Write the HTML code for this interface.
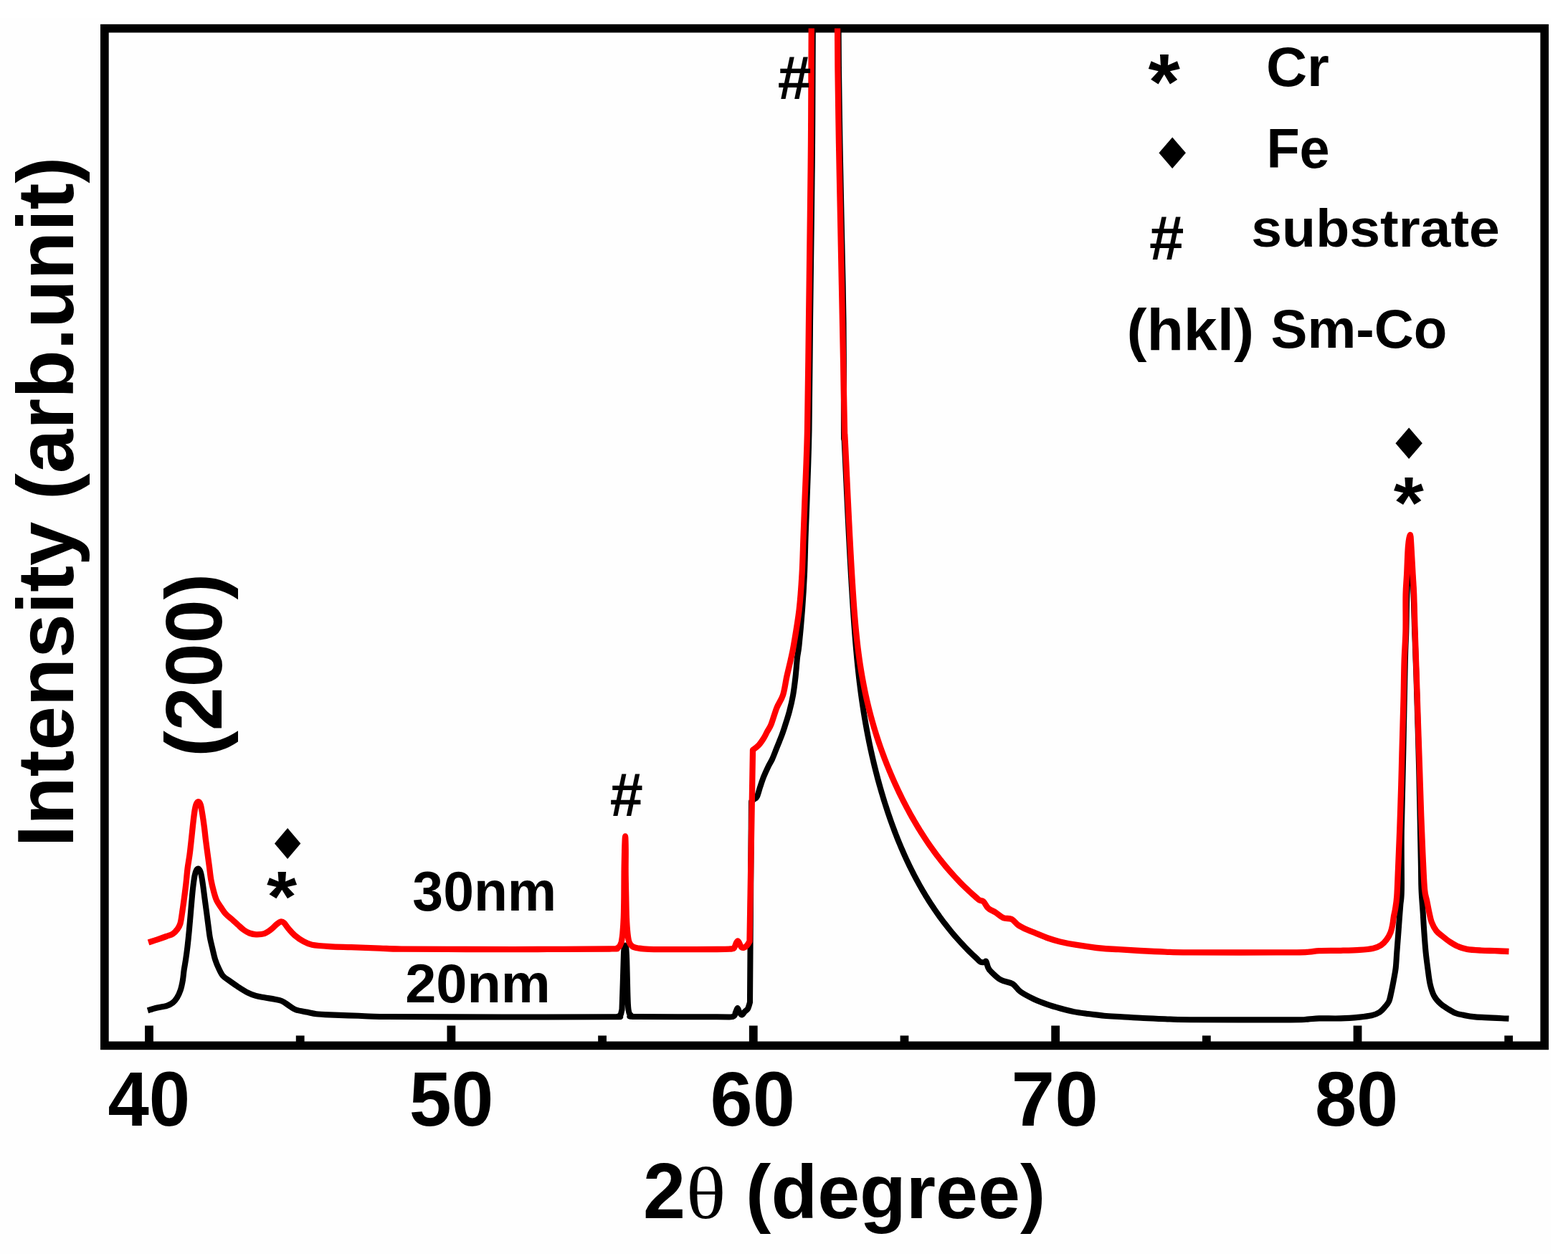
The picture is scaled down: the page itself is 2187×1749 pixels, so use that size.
<!DOCTYPE html>
<html><head><meta charset="utf-8"><title>XRD 2θ scan</title>
<style>
html,body{margin:0;padding:0;background:#fff;}
svg{display:block;}
text{fill:#000;font-kerning:normal;}
</style></head>
<body>
<svg width="2187" height="1749" viewBox="0 0 2187 1749">
<rect x="0" y="0" width="2187" height="1749" fill="#ffffff"/>
<rect x="0" y="25" width="2162.5" height="1724" fill="#fefefe"/>
<defs><clipPath id="plot"><rect x="151.7" y="39.5" width="1996.7" height="1413"/></clipPath></defs>
<rect x="145.85" y="39.65" width="2008.4" height="1418.7" fill="none" stroke="#000" stroke-width="11.7"/>
<g fill="#000"><rect x="202.1" y="1430.5" width="11.8" height="23"/><rect x="412.79" y="1444.4" width="11.8" height="9.1"/><rect x="623.48" y="1430.5" width="11.8" height="23"/><rect x="834.17" y="1444.4" width="11.8" height="9.1"/><rect x="1044.86" y="1430.5" width="11.8" height="23"/><rect x="1255.55" y="1444.4" width="11.8" height="9.1"/><rect x="1466.24" y="1430.5" width="11.8" height="23"/><rect x="1676.93" y="1444.4" width="11.8" height="9.1"/><rect x="1887.62" y="1430.5" width="11.8" height="23"/><rect x="2098.31" y="1444.4" width="11.8" height="9.1"/></g>
<g clip-path="url(#plot)" fill="none" stroke-linejoin="round" stroke-linecap="butt">
<path d="M206 1409.4C208.017 1408.8 213.667 1406.9 218.1 1405.8C222.533 1404.7 228.783 1404.017 232.6 1402.8C236.417 1401.583 238.6 1400.417 241 1398.5C243.4 1396.583 245.183 1394.317 247 1391.3C248.817 1388.283 250.583 1384.417 251.9 1380.4C253.217 1376.383 254.1 1371.817 254.9 1367.2C255.7 1362.583 256 1357.533 256.7 1352.7C257.4 1347.867 258.3 1343.617 259.1 1338.2C259.9 1332.783 260.717 1326.9 261.5 1320.2C262.283 1313.5 262.983 1306.7 263.8 1298C264.617 1289.3 265.55 1277.6 266.4 1268C267.25 1258.4 268.05 1248.15 268.9 1240.4C269.75 1232.65 270.65 1225.983 271.5 1221.5C272.35 1217.017 273.05 1215.083 274 1213.5C274.95 1211.917 276.133 1211.133 277.2 1212C278.267 1212.867 279.433 1215.033 280.4 1218.7C281.367 1222.367 282.15 1228.267 283 1234C283.85 1239.733 284.65 1246.717 285.5 1253.1C286.35 1259.483 287.25 1265.917 288.1 1272.3C288.95 1278.683 289.8 1285.433 290.6 1291.4C291.4 1297.367 291.917 1302.7 292.9 1308.1C293.883 1313.5 295.3 1318.783 296.5 1323.8C297.7 1328.817 298.7 1333.783 300.1 1338.2C301.5 1342.617 303.083 1346.467 304.9 1350.3C306.717 1354.133 308.383 1358.183 311 1361.2C313.617 1364.217 316.983 1365.8 320.6 1368.4C324.217 1371 328.683 1374.183 332.7 1376.8C336.717 1379.417 340.683 1382.083 344.7 1384.1C348.717 1386.117 352.783 1387.7 356.8 1388.9C360.817 1390.1 364.383 1390.5 368.8 1391.3C373.217 1392.1 379.267 1392.9 383.3 1393.7C387.333 1394.5 389.783 1394.683 393 1396.1C396.217 1397.517 399.383 1400.183 402.6 1402.2C405.817 1404.217 407.883 1406.6 412.3 1408.2C416.717 1409.8 424.283 1410.8 429.1 1411.8C433.917 1412.8 436.05 1413.6 441.2 1414.2C446.35 1414.8 450.2 1414.967 460 1415.4C469.8 1415.833 486.667 1416.367 500 1416.8C513.333 1417.233 506.667 1417.717 540 1418C573.333 1418.283 648.333 1418.45 700 1418.5C751.667 1418.55 823 1418.45 850 1418.3C877 1418.15 859.333 1418.233 862 1417.6C864.667 1416.967 865.333 1415.017 866 1414.5L867.5 1408C867.717 1401.667 868.383 1383 868.8 1370C869.217 1357 869.633 1338.25 870 1330C870.367 1321.75 870.5 1322.083 871 1320.5C871.5 1318.917 872.467 1317.25 873 1320.5C873.533 1323.75 873.817 1329.25 874.2 1340C874.583 1350.75 874.917 1373.667 875.3 1385C875.683 1396.333 875.717 1402.833 876.5 1408C877.283 1413.167 877.75 1414.333 880 1416C882.25 1417.667 870 1417.617 890 1418C910 1418.383 978 1418.3 1000 1418.3C1022 1418.3 1017.667 1419.05 1022 1418C1026.333 1416.95 1024.883 1414 1026 1412C1027.117 1410 1027.783 1406 1028.7 1406C1029.617 1406 1030.45 1410.417 1031.5 1412C1032.55 1413.583 1033.8 1415.667 1035 1415.5C1036.2 1415.333 1037.367 1412.417 1038.7 1411C1040.033 1409.583 1041.783 1409.167 1043 1407C1044.217 1404.833 1045.5 1399.5 1046 1398L1048 1118C1048.667 1117.417 1050.683 1115.667 1052 1114.5C1053.317 1113.333 1054.5 1113.917 1055.9 1111C1057.3 1108.083 1058.833 1101.65 1060.4 1097C1061.967 1092.35 1063.45 1087.733 1065.3 1083.1C1067.15 1078.467 1069.533 1073.267 1071.5 1069.2C1073.467 1065.133 1075.233 1062.767 1077.1 1058.7C1078.967 1054.633 1081.067 1048.85 1082.7 1044.8C1084.333 1040.75 1085.517 1037.883 1086.9 1034.4C1088.283 1030.917 1089.733 1027.383 1091 1023.9C1092.267 1020.417 1092.833 1018.783 1094.5 1013.5C1096.167 1008.217 1099.067 999.517 1101 992.2C1102.933 984.883 1104.667 977.717 1106.1 969.6C1107.533 961.483 1108.617 952.2 1109.6 943.5C1110.583 934.8 1111.183 924.65 1112 917.4C1112.817 910.15 1113.333 911.233 1114.5 900C1115.667 888.767 1117.75 866.667 1119 850C1120.25 833.333 1121.25 816.667 1122 800C1122.75 783.333 1122.933 766.667 1123.5 750C1124.067 733.333 1124.567 725 1125.4 700C1126.233 675 1127.733 641.667 1128.5 600C1129.267 558.333 1129.433 500 1130 450C1130.567 400 1131.4 341.667 1131.9 300C1132.4 258.333 1132.733 233.333 1133 200C1133.267 166.667 1133.367 128.333 1133.5 100C1133.633 71.667 1133.75 41.667 1133.8 30L1169.5 30C1169.583 41.667 1169.667 71.667 1170 100C1170.333 128.333 1170.917 166.667 1171.5 200C1172.083 233.333 1172.667 258.333 1173.5 300C1174.333 341.667 1175.917 400 1176.5 450C1177.083 500 1176.87 574.023 1177 600C1177.13 625.977 1177.187 603.903 1177.28 605.86C1177.373 607.817 1177.468 609.78 1177.56 611.74C1177.652 613.7 1177.738 615.657 1177.83 617.62C1177.922 619.583 1178.018 621.553 1178.11 623.52C1178.202 625.487 1178.288 627.452 1178.38 629.42C1178.472 631.388 1178.568 633.358 1178.66 635.33C1178.752 637.302 1178.838 639.275 1178.93 641.25C1179.022 643.225 1179.118 645.202 1179.21 647.18C1179.302 649.158 1179.388 651.14 1179.48 653.12C1179.572 655.1 1179.668 657.077 1179.76 659.06C1179.852 661.043 1179.938 663.033 1180.03 665.02C1180.122 667.007 1180.217 668.992 1180.31 670.98C1180.403 672.968 1180.497 674.96 1180.59 676.95C1180.683 678.94 1180.777 680.928 1180.87 682.92C1180.963 684.912 1181.057 686.905 1181.15 688.9C1181.243 690.895 1181.337 692.893 1181.43 694.89C1181.523 696.887 1181.615 698.882 1181.71 700.88C1181.805 702.878 1181.903 704.878 1182 706.88C1182.097 708.882 1182.193 710.887 1182.29 712.89C1182.387 714.893 1182.483 716.897 1182.58 718.9C1182.677 720.903 1182.772 722.905 1182.87 724.91C1182.968 726.915 1183.07 728.923 1183.17 730.93C1183.27 732.937 1183.368 734.942 1183.47 736.95C1183.572 738.958 1183.678 740.97 1183.78 742.98C1183.882 744.99 1183.978 746.998 1184.08 749.01C1184.182 751.022 1184.285 753.038 1184.39 755.05C1184.495 757.062 1184.603 759.068 1184.71 761.08C1184.817 763.092 1184.923 765.105 1185.03 767.12C1185.137 769.135 1185.242 771.155 1185.35 773.17C1185.458 775.185 1185.57 777.195 1185.68 779.21C1185.79 781.225 1185.898 783.243 1186.01 785.26C1186.122 787.277 1186.237 789.293 1186.35 791.31C1186.463 793.327 1186.577 795.342 1186.69 797.36C1186.803 799.378 1186.913 801.402 1187.03 803.42C1187.147 805.438 1187.27 807.453 1187.39 809.47C1187.51 811.487 1187.63 813.502 1187.75 815.52C1187.87 817.538 1187.988 819.562 1188.11 821.58C1188.232 823.598 1188.355 825.612 1188.48 827.63C1188.605 829.648 1188.733 831.672 1188.86 833.69C1188.987 835.708 1189.112 837.723 1189.24 839.74C1189.368 841.757 1189.498 843.772 1189.63 845.79C1189.762 847.808 1189.895 849.832 1190.03 851.85C1190.165 853.868 1190.303 855.883 1190.44 857.9C1190.577 859.917 1190.71 861.935 1190.85 863.95C1190.99 865.965 1191.135 867.975 1191.28 869.99C1191.425 872.005 1191.572 874.025 1191.72 876.04C1191.868 878.055 1192.017 880.067 1192.17 882.08C1192.323 884.093 1192.48 886.107 1192.64 888.12C1192.8 890.133 1192.965 892.147 1193.13 894.16C1193.295 896.173 1193.46 898.188 1193.63 900.2C1193.8 902.212 1193.972 904.222 1194.15 906.23C1194.328 908.238 1194.515 910.242 1194.7 912.25C1194.885 914.258 1195.068 916.272 1195.26 918.28C1195.452 920.288 1195.65 922.295 1195.85 924.3C1196.05 926.305 1196.252 928.307 1196.46 930.31C1196.668 932.313 1196.883 934.318 1197.1 936.32C1197.317 938.322 1197.535 940.32 1197.76 942.32C1197.985 944.32 1198.213 946.322 1198.45 948.32C1198.687 950.318 1198.933 952.313 1199.18 954.31C1199.427 956.307 1199.675 958.305 1199.93 960.3C1200.185 962.295 1200.443 964.287 1200.71 966.28C1200.977 968.273 1201.252 970.27 1201.53 972.26C1201.808 974.25 1202.092 976.233 1202.38 978.22C1202.668 980.207 1202.96 982.195 1203.26 984.18C1203.56 986.165 1203.868 988.147 1204.18 990.13C1204.492 992.113 1204.808 994.098 1205.13 996.08C1205.452 998.062 1205.777 1000.043 1206.11 1002.02C1206.443 1003.997 1206.783 1005.967 1207.13 1007.94C1207.477 1009.913 1207.833 1011.887 1208.19 1013.86C1208.547 1015.833 1208.902 1017.81 1209.27 1019.78C1209.638 1021.75 1210.018 1023.715 1210.4 1025.68C1210.782 1027.645 1211.167 1029.608 1211.56 1031.57C1211.953 1033.532 1212.353 1035.49 1212.76 1037.45C1213.167 1039.41 1213.58 1041.373 1214 1043.33C1214.42 1045.287 1214.848 1047.238 1215.28 1049.19C1215.712 1051.142 1216.147 1053.092 1216.59 1055.04C1217.033 1056.988 1217.482 1058.933 1217.94 1060.88C1218.398 1062.827 1218.868 1064.778 1219.34 1066.72C1219.812 1068.662 1220.287 1070.593 1220.77 1072.53C1221.253 1074.467 1221.743 1076.405 1222.24 1078.34C1222.737 1080.275 1223.238 1082.21 1223.75 1084.14C1224.262 1086.07 1224.783 1087.995 1225.31 1089.92C1225.837 1091.845 1226.372 1093.768 1226.91 1095.69C1227.448 1097.612 1227.987 1099.532 1228.54 1101.45C1229.093 1103.368 1229.662 1105.287 1230.23 1107.2C1230.798 1109.113 1231.368 1111.022 1231.95 1112.93C1232.532 1114.838 1233.123 1116.747 1233.72 1118.65C1234.317 1120.553 1234.918 1122.452 1235.53 1124.35C1236.142 1126.248 1236.763 1128.145 1237.39 1130.04C1238.017 1131.935 1238.648 1133.83 1239.29 1135.72C1239.932 1137.61 1240.583 1139.497 1241.24 1141.38C1241.897 1143.263 1242.557 1145.142 1243.23 1147.02C1243.903 1148.898 1244.59 1150.777 1245.28 1152.65C1245.97 1154.523 1246.665 1156.395 1247.37 1158.26C1248.075 1160.125 1248.788 1161.982 1249.51 1163.84C1250.232 1165.698 1250.96 1167.558 1251.7 1169.41C1252.44 1171.262 1253.192 1173.107 1253.95 1174.95C1254.708 1176.793 1255.475 1178.635 1256.25 1180.47C1257.025 1182.305 1257.808 1184.133 1258.6 1185.96C1259.392 1187.787 1260.19 1189.612 1261 1191.43C1261.81 1193.248 1262.63 1195.062 1263.46 1196.87C1264.29 1198.678 1265.13 1200.482 1265.98 1202.28C1266.83 1204.078 1267.692 1205.872 1268.56 1207.66C1269.428 1209.448 1270.303 1211.232 1271.19 1213.01C1272.077 1214.788 1272.973 1216.562 1273.88 1218.33C1274.787 1220.098 1275.702 1221.863 1276.63 1223.62C1277.558 1225.377 1278.502 1227.125 1279.45 1228.87C1280.398 1230.615 1281.352 1232.355 1282.32 1234.09C1283.288 1235.825 1284.268 1237.558 1285.26 1239.28C1286.252 1241.002 1287.257 1242.712 1288.27 1244.42C1289.283 1246.128 1290.307 1247.835 1291.34 1249.53C1292.373 1251.225 1293.415 1252.908 1294.47 1254.59C1295.525 1256.272 1296.592 1257.952 1297.67 1259.62C1298.748 1261.288 1299.838 1262.947 1300.94 1264.6C1302.042 1266.253 1303.157 1267.9 1304.28 1269.54C1305.403 1271.18 1306.533 1272.815 1307.68 1274.44C1308.827 1276.065 1309.988 1277.682 1311.16 1279.29C1312.332 1280.898 1313.515 1282.497 1314.71 1284.09C1315.905 1285.683 1317.11 1287.272 1318.33 1288.85C1319.55 1290.428 1320.785 1291.998 1322.03 1293.56C1323.275 1295.122 1324.532 1296.677 1325.8 1298.22C1327.068 1299.763 1328.345 1301.293 1329.64 1302.82C1330.935 1304.347 1332.248 1305.87 1333.57 1307.38C1334.892 1308.89 1336.225 1310.388 1337.57 1311.88C1338.915 1313.372 1340.268 1314.857 1341.64 1316.33C1343.012 1317.803 1344.402 1319.267 1345.8 1320.72C1347.198 1322.173 1348.605 1323.615 1350.03 1325.05C1351.455 1326.485 1352.897 1327.913 1354.35 1329.33C1355.803 1330.747 1357.27 1332.155 1358.75 1333.55C1360.23 1334.945 1361.722 1336.325 1363.23 1337.7C1364.738 1339.075 1366.172 1341.083 1367.8 1341.8C1369.428 1342.517 1371.717 1342.133 1373 1342C1374.283 1341.867 1374.667 1339.833 1375.5 1341C1376.333 1342.167 1376.967 1346.75 1378 1349C1379.033 1351.25 1378.75 1351.567 1381.7 1354.5C1384.65 1357.433 1390.583 1363.65 1395.7 1366.6C1400.817 1369.55 1407.767 1369.417 1412.4 1372.2C1417.033 1374.983 1418.567 1379.75 1423.5 1383.3C1428.433 1386.85 1435.817 1390.567 1442 1393.5C1448.183 1396.433 1454.417 1398.733 1460.6 1400.9C1466.783 1403.067 1472.917 1404.8 1479.1 1406.5C1485.283 1408.2 1491.5 1409.867 1497.7 1411.1C1503.9 1412.333 1509.25 1412.967 1516.3 1413.9C1523.35 1414.833 1531.883 1415.983 1540 1416.7C1548.117 1417.417 1555.833 1417.65 1565 1418.2C1574.167 1418.75 1585 1419.5 1595 1420C1605 1420.5 1614.167 1420.833 1625 1421.2C1635.833 1421.567 1630.833 1422 1660 1422.2C1689.167 1422.4 1772.667 1422.5 1800 1422.4C1827.333 1422.3 1817.333 1421.933 1824 1421.6C1830.667 1421.267 1832.333 1420.6 1840 1420.4C1847.667 1420.2 1860.583 1420.7 1870 1420.4C1879.417 1420.1 1889.317 1419.283 1896.5 1418.6C1903.683 1417.917 1908.5 1417.417 1913.1 1416.3C1917.7 1415.183 1920.983 1413.917 1924.1 1411.9C1927.217 1409.883 1929.6 1406.767 1931.8 1404.2C1934 1401.633 1935.833 1399.983 1937.3 1396.5C1938.767 1393.017 1939.5 1388.267 1940.6 1383.3C1941.7 1378.333 1942.883 1372.217 1943.9 1366.7C1944.917 1361.183 1945.967 1356.617 1946.7 1350.2C1947.433 1343.783 1947.75 1335.55 1948.3 1328.2C1948.85 1320.85 1949.45 1313.45 1950 1306.1C1950.55 1298.75 1951.05 1291.45 1951.6 1284.1C1952.15 1276.75 1952.75 1269.35 1953.3 1262C1953.85 1254.65 1954.65 1257.167 1954.9 1240C1955.15 1222.833 1954.417 1190.333 1954.8 1159C1955.183 1127.667 1956.367 1091.333 1957.2 1052C1958.033 1012.667 1959.117 951.667 1959.8 923C1960.483 894.333 1960.883 895.5 1961.3 880C1961.717 864.5 1961.817 844.167 1962.3 830C1962.783 815.833 1963.45 803 1964.2 795C1964.95 787 1965.933 782 1966.8 782C1967.667 782 1968.6 787 1969.4 795C1970.2 803 1970.967 815.833 1971.6 830C1972.233 844.167 1972.55 861 1973.2 880C1973.85 899 1974.5 911.833 1975.5 944C1976.5 976.167 1978.15 1030.333 1979.2 1073C1980.25 1115.667 1981.25 1172.167 1981.8 1200C1982.35 1227.833 1982.017 1227.817 1982.5 1240C1982.983 1252.183 1984.05 1263 1984.7 1273.1C1985.35 1283.2 1985.75 1291.417 1986.4 1300.6C1987.05 1309.783 1987.783 1319.933 1988.6 1328.2C1989.417 1336.467 1990.3 1342.85 1991.3 1350.2C1992.3 1357.55 1993.133 1365.867 1994.6 1372.3C1996.067 1378.733 1997.7 1384.217 2000.1 1388.8C2002.5 1393.383 2005.683 1396.683 2009 1399.8C2012.317 1402.917 2016.5 1405.3 2020 1407.5C2023.5 1409.7 2026.667 1411.667 2030 1413C2033.333 1414.333 2035.367 1414.6 2040 1415.5C2044.633 1416.4 2047.05 1417.55 2057.8 1418.4C2068.55 1419.25 2096.717 1420.233 2104.5 1420.6" stroke="#000" stroke-width="8.1"/>
<path d="M207 1314.4C209 1313.767 214.833 1312 219 1310.6C223.167 1309.2 228.333 1307.35 232 1306C235.667 1304.65 238.5 1304.083 241 1302.5C243.5 1300.917 245.25 1298.917 247 1296.5C248.75 1294.083 250.25 1292.417 251.5 1288C252.75 1283.583 253.583 1276 254.5 1270C255.417 1264 256.167 1258.333 257 1252C257.833 1245.667 258.75 1238.667 259.5 1232C260.25 1225.333 260.667 1218.667 261.5 1212C262.333 1205.333 263.617 1198.667 264.5 1192C265.383 1185.333 266.067 1178.667 266.8 1172C267.533 1165.333 268.167 1158.5 268.9 1152C269.633 1145.5 270.45 1137.917 271.2 1133C271.95 1128.083 272.5 1124.967 273.4 1122.5C274.3 1120.033 275.533 1118.2 276.6 1118.2C277.667 1118.2 278.85 1119.583 279.8 1122.5C280.75 1125.417 281.45 1130.517 282.3 1135.7C283.15 1140.883 284.15 1147.85 284.9 1153.6C285.65 1159.35 286.067 1164.25 286.8 1170.2C287.533 1176.15 288.45 1182.917 289.3 1189.3C290.15 1195.683 291.05 1202.117 291.9 1208.5C292.75 1214.883 293.333 1221.65 294.4 1227.6C295.467 1233.55 297.017 1239.517 298.3 1244.2C299.583 1248.883 300.4 1252.083 302.1 1255.7C303.8 1259.317 306.367 1262.717 308.5 1265.9C310.633 1269.083 312.35 1272.033 314.9 1274.8C317.45 1277.567 320.95 1279.967 323.8 1282.5C326.65 1285.033 329.3 1287.583 332 1290C334.7 1292.417 337.333 1295.083 340 1297C342.667 1298.917 345.167 1300.45 348 1301.5C350.833 1302.55 353.533 1303.2 357 1303.3C360.467 1303.4 365.217 1303.317 368.8 1302.1C372.383 1300.883 375.633 1298.183 378.5 1296C381.367 1293.817 383.833 1290.75 386 1289C388.167 1287.25 389.833 1285.833 391.5 1285.5C393.167 1285.167 394.15 1285.333 396 1287C397.85 1288.667 400.1 1292.583 402.6 1295.5C405.1 1298.417 407.583 1301.6 411 1304.5C414.417 1307.4 419.067 1310.7 423.1 1312.9C427.133 1315.1 429.05 1316.5 435.2 1317.7C441.35 1318.9 450.867 1319.517 460 1320.1C469.133 1320.683 478.333 1320.783 490 1321.2C501.667 1321.617 518.333 1322.2 530 1322.6C541.667 1323 540 1323.367 560 1323.6C580 1323.833 618.333 1323.933 650 1324C681.667 1324.067 716.667 1324.083 750 1324C783.333 1323.917 831.667 1323.7 850 1323.5C868.333 1323.3 857.583 1323.467 860 1322.8C862.417 1322.133 863.75 1320.05 864.5 1319.5L866.8 1314C867.067 1312 867.9 1307.667 868.4 1302C868.9 1296.333 869.467 1288.667 869.8 1280C870.133 1271.333 870.267 1260.667 870.4 1250C870.533 1239.333 870.467 1226.833 870.6 1216C870.733 1205.167 870.95 1193.25 871.2 1185C871.45 1176.75 871.85 1166.5 872.1 1166.5C872.35 1166.5 872.617 1176.75 872.7 1185C872.783 1193.25 872.517 1205.167 872.6 1216C872.683 1226.833 872.983 1239.333 873.2 1250C873.417 1260.667 873.533 1271.333 873.9 1280C874.267 1288.667 874.8 1296.333 875.4 1302C876 1307.667 876.4 1311 877.5 1314C878.6 1317 879.917 1318.583 882 1320C884.083 1321.417 886.167 1321.867 890 1322.5C893.833 1323.133 895 1323.517 905 1323.8C915 1324.083 934.167 1324.167 950 1324.2C965.833 1324.233 988.333 1324.117 1000 1324C1011.667 1323.883 1016 1323.833 1020 1323.5C1024 1323.167 1022.833 1323.417 1024 1322C1025.167 1320.583 1026.167 1316.583 1027 1315C1027.833 1313.417 1028.333 1312.5 1029 1312.5C1029.667 1312.5 1030.167 1313.583 1031 1315C1031.833 1316.417 1032.833 1319.917 1034 1321C1035.167 1322.083 1036.667 1321.917 1038 1321.5C1039.333 1321.083 1040.75 1319.917 1042 1318.5C1043.25 1317.083 1044.917 1313.917 1045.5 1313L1050 1046C1051.383 1044.867 1055.75 1041.95 1058.3 1039.2C1060.85 1036.45 1063.333 1032.633 1065.3 1029.5C1067.267 1026.367 1068.367 1023.65 1070.1 1020.4C1071.833 1017.15 1073.467 1015.567 1075.7 1010C1077.933 1004.433 1080.783 993.733 1083.5 987C1086.217 980.267 1089.683 976.85 1092 969.6C1094.317 962.35 1095.617 951.617 1097.4 943.5C1099.183 935.383 1101.1 928.15 1102.7 920.9C1104.3 913.65 1105 911.817 1107 900C1109 888.183 1112.767 866.667 1114.7 850C1116.633 833.333 1117.633 816.667 1118.6 800C1119.567 783.333 1119.867 766.667 1120.5 750C1121.133 733.333 1121.483 725 1122.4 700C1123.317 675 1125.067 641.667 1126 600C1126.933 558.333 1127.35 500 1128 450C1128.65 400 1129.4 341.667 1129.9 300C1130.4 258.333 1130.733 233.333 1131 200C1131.267 166.667 1131.367 128.333 1131.5 100C1131.633 71.667 1131.75 41.667 1131.8 30L1168 30C1168.083 41.667 1168.167 71.667 1168.5 100C1168.833 128.333 1169.417 166.667 1170 200C1170.583 233.333 1171.167 258.333 1172 300C1172.833 341.667 1174 400 1175 450C1176 500 1177.452 574.028 1178 600C1178.548 625.972 1178.192 603.885 1178.29 605.83C1178.388 607.775 1178.492 609.72 1178.59 611.67C1178.688 613.62 1178.783 615.573 1178.88 617.53C1178.977 619.487 1179.075 621.448 1179.17 623.41C1179.265 625.372 1179.355 627.335 1179.45 629.3C1179.545 631.265 1179.645 633.232 1179.74 635.2C1179.835 637.168 1179.925 639.137 1180.02 641.11C1180.115 643.083 1180.215 645.062 1180.31 647.04C1180.405 649.018 1180.497 650.998 1180.59 652.98C1180.683 654.962 1180.775 656.945 1180.87 658.93C1180.965 660.915 1181.065 662.9 1181.16 664.89C1181.255 666.88 1181.347 668.877 1181.44 670.87C1181.533 672.863 1181.625 674.855 1181.72 676.85C1181.815 678.845 1181.915 680.842 1182.01 682.84C1182.105 684.838 1182.195 686.838 1182.29 688.84C1182.385 690.842 1182.483 692.845 1182.58 694.85C1182.677 696.855 1182.773 698.863 1182.87 700.87C1182.967 702.877 1183.062 704.88 1183.16 706.89C1183.258 708.9 1183.36 710.917 1183.46 712.93C1183.56 714.943 1183.662 716.957 1183.76 718.97C1183.858 720.983 1183.95 722.995 1184.05 725.01C1184.15 727.025 1184.258 729.042 1184.36 731.06C1184.462 733.078 1184.558 735.1 1184.66 737.12C1184.762 739.14 1184.865 741.158 1184.97 743.18C1185.075 745.202 1185.183 747.227 1185.29 749.25C1185.397 751.273 1185.503 753.297 1185.61 755.32C1185.717 757.343 1185.822 759.367 1185.93 761.39C1186.038 763.413 1186.15 765.435 1186.26 767.46C1186.37 769.485 1186.478 771.513 1186.59 773.54C1186.702 775.567 1186.817 777.593 1186.93 779.62C1187.043 781.647 1187.155 783.673 1187.27 785.7C1187.385 787.727 1187.502 789.753 1187.62 791.78C1187.738 793.807 1187.86 795.832 1187.98 797.86C1188.1 799.888 1188.218 801.922 1188.34 803.95C1188.462 805.978 1188.585 808.003 1188.71 810.03C1188.835 812.057 1188.963 814.085 1189.09 816.11C1189.217 818.135 1189.34 820.155 1189.47 822.18C1189.6 824.205 1189.737 826.235 1189.87 828.26C1190.003 830.285 1190.132 832.307 1190.27 834.33C1190.408 836.353 1190.557 838.377 1190.7 840.4C1190.843 842.423 1190.982 844.448 1191.13 846.47C1191.278 848.492 1191.433 850.51 1191.59 852.53C1191.747 854.55 1191.907 856.57 1192.07 858.59C1192.233 860.61 1192.398 862.633 1192.57 864.65C1192.742 866.667 1192.92 868.675 1193.1 870.69C1193.28 872.705 1193.46 874.727 1193.65 876.74C1193.84 878.753 1194.038 880.76 1194.24 882.77C1194.442 884.78 1194.648 886.792 1194.86 888.8C1195.072 890.808 1195.287 892.815 1195.51 894.82C1195.733 896.825 1195.963 898.827 1196.2 900.83C1196.437 902.833 1196.68 904.84 1196.93 906.84C1197.18 908.84 1197.435 910.833 1197.7 912.83C1197.965 914.827 1198.24 916.825 1198.52 918.82C1198.8 920.815 1199.085 922.81 1199.38 924.8C1199.675 926.79 1199.977 928.773 1200.29 930.76C1200.603 932.747 1200.93 934.737 1201.26 936.72C1201.59 938.703 1201.925 940.682 1202.27 942.66C1202.615 944.638 1202.967 946.615 1203.33 948.59C1203.693 950.565 1204.07 952.538 1204.45 954.51C1204.83 956.482 1205.213 958.453 1205.61 960.42C1206.007 962.387 1206.413 964.348 1206.83 966.31C1207.247 968.272 1207.675 970.232 1208.11 972.19C1208.545 974.148 1208.988 976.107 1209.44 978.06C1209.892 980.013 1210.35 981.963 1210.82 983.91C1211.29 985.857 1211.772 987.798 1212.26 989.74C1212.748 991.682 1213.243 993.622 1213.75 995.56C1214.257 997.498 1214.773 999.438 1215.3 1001.37C1215.827 1003.302 1216.365 1005.225 1216.91 1007.15C1217.455 1009.075 1218.007 1011 1218.57 1012.92C1219.133 1014.84 1219.707 1016.755 1220.29 1018.67C1220.873 1020.585 1221.467 1022.502 1222.07 1024.41C1222.673 1026.318 1223.287 1028.218 1223.91 1030.12C1224.533 1032.022 1225.168 1033.923 1225.81 1035.82C1226.452 1037.717 1227.1 1039.612 1227.76 1041.5C1228.42 1043.388 1229.092 1045.268 1229.77 1047.15C1230.448 1049.032 1231.133 1050.915 1231.83 1052.79C1232.527 1054.665 1233.235 1056.533 1233.95 1058.4C1234.665 1060.267 1235.387 1062.128 1236.12 1063.99C1236.853 1065.852 1237.6 1067.717 1238.35 1069.57C1239.1 1071.423 1239.853 1073.265 1240.62 1075.11C1241.387 1076.955 1242.165 1078.802 1242.95 1080.64C1243.735 1082.478 1244.528 1084.31 1245.33 1086.14C1246.132 1087.97 1246.94 1089.8 1247.76 1091.62C1248.58 1093.44 1249.412 1095.248 1250.25 1097.06C1251.088 1098.872 1251.937 1100.687 1252.79 1102.49C1253.643 1104.293 1254.498 1106.087 1255.37 1107.88C1256.242 1109.673 1257.13 1111.467 1258.02 1113.25C1258.91 1115.033 1259.803 1116.808 1260.71 1118.58C1261.617 1120.352 1262.535 1122.118 1263.46 1123.88C1264.385 1125.642 1265.318 1127.398 1266.26 1129.15C1267.202 1130.902 1268.15 1132.648 1269.11 1134.39C1270.07 1136.132 1271.042 1137.872 1272.02 1139.6C1272.998 1141.328 1273.983 1143.045 1274.98 1144.76C1275.977 1146.475 1276.985 1148.185 1278 1149.89C1279.015 1151.595 1280.037 1153.298 1281.07 1154.99C1282.103 1156.682 1283.148 1158.362 1284.2 1160.04C1285.252 1161.718 1286.308 1163.393 1287.38 1165.06C1288.452 1166.727 1289.537 1168.388 1290.63 1170.04C1291.723 1171.692 1292.827 1173.333 1293.94 1174.97C1295.053 1176.607 1296.175 1178.237 1297.31 1179.86C1298.445 1181.483 1299.593 1183.102 1300.75 1184.71C1301.907 1186.318 1303.072 1187.917 1304.25 1189.51C1305.428 1191.103 1306.618 1192.692 1307.82 1194.27C1309.022 1195.848 1310.235 1197.418 1311.46 1198.98C1312.685 1200.542 1313.922 1202.093 1315.17 1203.64C1316.418 1205.187 1317.677 1206.73 1318.95 1208.26C1320.223 1209.79 1321.51 1211.308 1322.81 1212.82C1324.11 1214.332 1325.425 1215.835 1326.75 1217.33C1328.075 1218.825 1329.408 1220.312 1330.76 1221.79C1332.112 1223.268 1333.48 1224.738 1334.86 1226.2C1336.24 1227.662 1337.633 1229.117 1339.04 1230.56C1340.447 1232.003 1341.863 1233.437 1343.3 1234.86C1344.737 1236.283 1346.193 1237.695 1347.66 1239.1C1349.127 1240.505 1350.603 1241.903 1352.1 1243.29C1353.597 1244.677 1355.112 1246.053 1356.64 1247.42C1358.168 1248.787 1359.71 1250.143 1361.27 1251.49C1362.83 1252.837 1364.245 1254.498 1366 1255.5C1367.755 1256.502 1369.733 1255.617 1371.8 1257.5C1373.867 1259.383 1375.633 1264.283 1378.4 1266.8C1381.167 1269.317 1384.917 1270.383 1388.4 1272.6C1391.883 1274.817 1395.533 1278.533 1399.3 1280.1C1403.067 1281.667 1407.517 1280.317 1411 1282C1414.483 1283.683 1416.583 1287.733 1420.2 1290.2C1423.817 1292.667 1428.533 1294.867 1432.7 1296.8C1436.867 1298.733 1440.333 1299.85 1445.2 1301.8C1450.067 1303.75 1456.333 1306.55 1461.9 1308.5C1467.467 1310.45 1472.25 1311.967 1478.6 1313.5C1484.95 1315.033 1490.633 1316.2 1500 1317.7C1509.367 1319.2 1524.8 1321.417 1534.8 1322.5C1544.8 1323.583 1550.8 1323.617 1560 1324.2C1569.2 1324.783 1579.167 1325.433 1590 1326C1600.833 1326.567 1613.333 1327.2 1625 1327.6C1636.667 1328 1630.833 1328.267 1660 1328.4C1689.167 1328.533 1772.333 1328.533 1800 1328.4C1827.667 1328.267 1819.333 1327.967 1826 1327.6C1832.667 1327.233 1832.667 1326.5 1840 1326.2C1847.333 1325.9 1860.583 1326.017 1870 1325.8C1879.417 1325.583 1888.95 1325.417 1896.5 1324.9C1904.05 1324.383 1910.333 1323.8 1915.3 1322.7C1920.267 1321.6 1923.183 1320.333 1926.3 1318.3C1929.417 1316.267 1931.8 1313.45 1934 1310.5C1936.2 1307.55 1938.117 1304.083 1939.5 1300.6C1940.883 1297.117 1941.567 1293.267 1942.3 1289.6C1943.033 1285.933 1943.267 1282.267 1943.9 1278.6C1944.533 1274.933 1945.367 1272.367 1946.1 1267.6C1946.833 1262.833 1947.65 1259.167 1948.3 1250C1948.95 1240.833 1949.35 1227.767 1950 1212.6C1950.65 1197.433 1951.483 1178.667 1952.2 1159C1952.917 1139.333 1953.767 1112.483 1954.3 1094.6C1954.833 1076.717 1954.867 1071.367 1955.4 1051.7C1955.933 1032.033 1956.967 998.067 1957.5 976.6C1958.033 955.133 1958.1 939 1958.6 922.9C1959.1 906.8 1960.167 895.483 1960.5 880C1960.833 864.517 1960.317 843.333 1960.6 830C1960.883 816.667 1961.633 811.333 1962.2 800C1962.767 788.667 1963.217 771 1964 762C1964.783 753 1966.167 746 1966.9 746C1967.633 746 1967.8 753 1968.4 762C1969 771 1969.867 788.667 1970.5 800C1971.133 811.333 1971.683 816.667 1972.2 830C1972.717 843.333 1973 860.933 1973.6 880C1974.2 899.067 1975.083 922.933 1975.8 944.4C1976.517 965.867 1977.183 987.35 1977.9 1008.8C1978.617 1030.25 1979.383 1051.65 1980.1 1073.1C1980.817 1094.55 1981.483 1117.817 1982.2 1137.5C1982.917 1157.183 1983.6 1174.117 1984.4 1191.2C1985.2 1208.283 1986.033 1229.117 1987 1240C1987.967 1250.883 1989.117 1250.983 1990.2 1256.5C1991.283 1262.017 1992.4 1268.133 1993.5 1273.1C1994.6 1278.067 1995.15 1282.083 1996.8 1286.3C1998.45 1290.517 2000.817 1295.1 2003.4 1298.4C2005.983 1301.7 2009.2 1303.583 2012.3 1306.1C2015.4 1308.617 2018.55 1311.217 2022 1313.5C2025.45 1315.783 2029 1318.083 2033 1319.8C2037 1321.517 2040.5 1322.833 2046 1323.8C2051.5 1324.767 2059.5 1325.2 2066 1325.6C2072.5 1326 2078.583 1325.967 2085 1326.2C2091.417 1326.433 2101.25 1326.867 2104.5 1327" stroke="#ff0000" stroke-width="8.3"/>
</g>
<g>
<text transform="matrix(1.032 0 0 1.078 150.452 1569.522)" font-family="'Liberation Sans', Arial, sans-serif" font-weight="bold" font-size="100">40</text>
<text transform="matrix(1.059 0 0 1.078 570.659 1569.522)" font-family="'Liberation Sans', Arial, sans-serif" font-weight="bold" font-size="100">50</text>
<text transform="matrix(1.064 0 0 1.078 990.511 1569.522)" font-family="'Liberation Sans', Arial, sans-serif" font-weight="bold" font-size="100">60</text>
<text transform="matrix(1.091 0 0 1.078 1410.562 1569.522)" font-family="'Liberation Sans', Arial, sans-serif" font-weight="bold" font-size="100">70</text>
<text transform="matrix(1.047 0 0 1.078 1833.897 1569.522)" font-family="'Liberation Sans', Arial, sans-serif" font-weight="bold" font-size="100">80</text>
<text transform="translate(101.8 1181.449) rotate(-90) scale(1.104 1.12)" font-family="'Liberation Sans', Arial, sans-serif" font-weight="bold" font-size="100">Intensity (arb.unit)</text>
<text transform="translate(309.4 1055.683) rotate(-90) scale(1.097 1.12)" font-family="'Liberation Sans', Arial, sans-serif" font-weight="bold" font-size="100">(200)</text>
<text transform="matrix(1.062 0 0 1.085 896.981 1698.6)" font-family="'Liberation Sans', Arial, sans-serif" font-weight="bold" font-size="100">2</text>
<text transform="matrix(1.164 0 0 1.011 956.871 1699.389)" font-family="'Liberation Serif', 'Times New Roman', serif" font-weight="normal" font-size="100">θ</text>
<text transform="matrix(1.06 0 0 1.062 1040.102 1698.6)" font-family="'Liberation Sans', Arial, sans-serif" font-weight="bold" font-size="100">(degree)</text>
<text transform="matrix(0.769 0 0 0.772 575.37 1270.4)" font-family="'Liberation Sans', Arial, sans-serif" font-weight="bold" font-size="100">30nm</text>
<text transform="matrix(0.775 0 0 0.765 565.188 1398)" font-family="'Liberation Sans', Arial, sans-serif" font-weight="bold" font-size="100">20nm</text>
<text transform="matrix(0.829 0 0 0.848 850.75 1138)" font-family="'Liberation Sans', Arial, sans-serif" font-weight="bold" font-size="100">#</text>
<text transform="matrix(0.84 0 0 0.848 1084.73 137.9)" font-family="'Liberation Sans', Arial, sans-serif" font-weight="bold" font-size="100">#</text>
<text transform="matrix(0.478 0 0 0.561 382.661 1190.53)" font-family="'DejaVu Sans', sans-serif" font-weight="normal" font-size="100">◆</text>
<text transform="matrix(1.085 0 0 1.003 371.958 1285.336)" font-family="'Liberation Sans', Arial, sans-serif" font-weight="bold" font-size="100">*</text>
<text transform="matrix(0.492 0 0 0.569 1946.154 632.734)" font-family="'DejaVu Sans', sans-serif" font-weight="normal" font-size="100">◆</text>
<text transform="matrix(1.082 0 0 1.022 1943.859 736.336)" font-family="'Liberation Sans', Arial, sans-serif" font-weight="bold" font-size="100">*</text>
<text transform="matrix(1.14 0 0 1.116 1601.43 152.74)" font-family="'Liberation Sans', Arial, sans-serif" font-weight="bold" font-size="100">*</text>
<text transform="matrix(0.792 0 0 0.772 1765.93 119.528)" font-family="'Liberation Sans', Arial, sans-serif" font-weight="bold" font-size="100">Cr</text>
<text transform="matrix(0.493 0 0 0.569 1616.153 228.334)" font-family="'DejaVu Sans', sans-serif" font-weight="normal" font-size="100">◆</text>
<text transform="matrix(0.757 0 0 0.784 1766.392 233.916)" font-family="'Liberation Sans', Arial, sans-serif" font-weight="bold" font-size="100">Fe</text>
<text transform="matrix(0.871 0 0 0.872 1602.876 361.5)" font-family="'Liberation Sans', Arial, sans-serif" font-weight="bold" font-size="100">#</text>
<text transform="matrix(0.77 0 0 0.737 1745.303 343.6)" font-family="'Liberation Sans', Arial, sans-serif" font-weight="bold" font-size="100">substrate</text>
<text transform="matrix(0.842 0 0 0.815 1571.391 487.9)" font-family="'Liberation Sans', Arial, sans-serif" font-weight="bold" font-size="100">(hkl)</text>
<text transform="matrix(0.763 0 0 0.765 1772.511 485)" font-family="'Liberation Sans', Arial, sans-serif" font-weight="bold" font-size="100">Sm-Co</text>
</g>
</svg>
</body></html>
